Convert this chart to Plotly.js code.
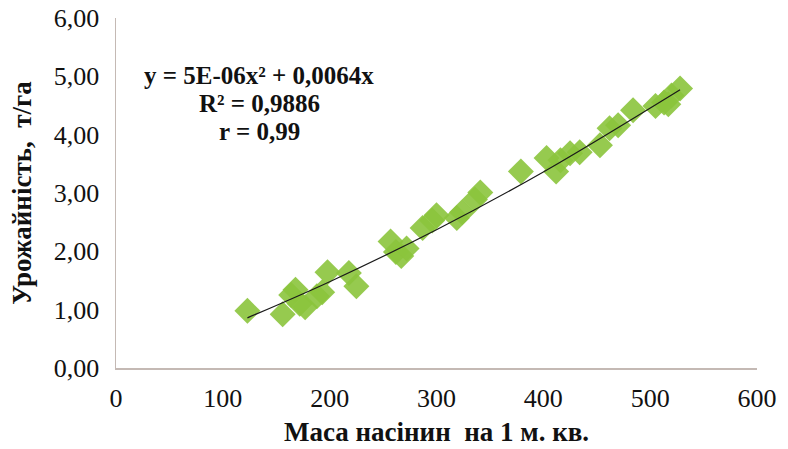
<!DOCTYPE html>
<html>
<head>
<meta charset="utf-8">
<script src="https://cdn.plot.ly/plotly-3.0.1.min.js"></script>
<style>html,body{margin:0;padding:0;background:#fff;}#chart{width:788px;height:449px;}</style>
</head>
<body>
<div id="chart"></div>
<script>
// Observed points: seed mass per 1 m² vs yield (t/ha)
const massX = [123, 156, 164, 168, 172, 177, 188, 193, 198, 218, 225, 257, 262, 267, 272, 287, 296, 300, 319, 324, 336, 341, 379, 403, 412, 416, 425, 434, 453, 462, 470, 484, 505, 513, 517, 520, 528];
const yieldY = [0.98, 0.92, 1.25, 1.34, 1.10, 1.04, 1.23, 1.30, 1.64, 1.63, 1.40, 2.17, 1.99, 1.92, 2.05, 2.40, 2.53, 2.62, 2.57, 2.67, 2.89, 3.01, 3.37, 3.60, 3.37, 3.56, 3.68, 3.70, 3.82, 4.11, 4.16, 4.42, 4.49, 4.55, 4.52, 4.67, 4.79];
// Trend line
const trendX = [123, 200, 300, 400, 528];
const trendY = [0.86, 1.48, 2.37, 3.36, 4.77];
const xTicks = [0, 100, 200, 300, 400, 500, 600];
const yTicks = [0, 1, 2, 3, 4, 5, 6];
const yTickText = ["0,00", "1,00", "2,00", "3,00", "4,00", "5,00", "6,00"];
const eqLines = ["y = 5E-06x² + 0,0064x", "R² = 0,9886", "r = 0,99"];
const xTitle = "Маса насінин  на 1 м. кв.";
const yTitle = "Урожайність,  т/га";

const F = "Liberation Serif, Times New Roman, serif";
const data = [
  {x: massX, y: yieldY, type: 'scatter', mode: 'markers',
   marker: {symbol: 'diamond', size: 20, color: '#8bc43c', opacity: 0.9, line: {width: 0}},
   hoverinfo: 'x+y'},
  {x: trendX, y: trendY, type: 'scatter', mode: 'lines',
   line: {color: '#1a1a1a', width: 1.2, shape: 'spline'}, hoverinfo: 'skip'}
];
const eqY = [5.006, 4.526, 4.046];
const layout = {
  width: 788, height: 449,
  margin: {l: 116, r: 31, t: 18, b: 81},
  paper_bgcolor: '#fff', plot_bgcolor: '#fff',
  showlegend: false,
  font: {family: F, color: '#111', size: 26},
  xaxis: {range: [0, 600], tickvals: xTicks, ticktext: xTicks.map(String),
    showgrid: false, zeroline: false, showline: true, linecolor: '#c4b9b4', linewidth: 1.5,
    ticks: '', ticklabelstandoff: 6, tickfont: {family: F, size: 26, color: '#111'},
    title: {text: '<b>' + xTitle + '</b>', font: {family: F, size: 27, color: '#111'}, standoff: 10}},
  yaxis: {range: [0, 6], tickvals: yTicks, ticktext: yTickText,
    showgrid: false, zeroline: false, showline: true, linecolor: '#c4b9b4', linewidth: 1.5,
    ticks: '', ticklabelstandoff: 10, tickfont: {family: F, size: 26, color: '#111'},
    title: {text: '<b>' + yTitle + '</b>', font: {family: F, size: 27, color: '#111'}, standoff: 14}},
  annotations: eqLines.map((t, i) => ({x: 134, y: eqY[i], xref: 'x', yref: 'y', text: '<b>' + t + '</b>',
    showarrow: false, align: 'center', font: {family: F, size: 25, color: '#111'}}))
};
Plotly.newPlot('chart', data, layout, {displayModeBar: false, staticPlot: true});
</script>
</body>
</html>
